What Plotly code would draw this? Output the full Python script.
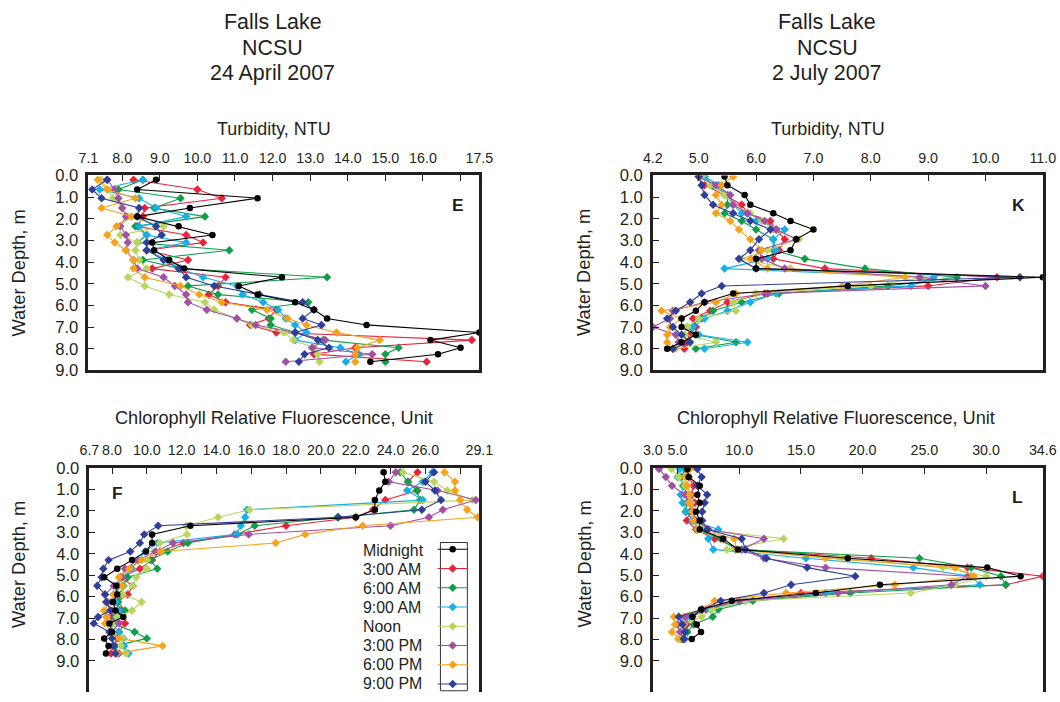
import plotly.graph_objects as go

W, H = 1060, 702

series_names = ["Midnight", "3:00 AM", "6:00 AM", "9:00 AM", "Noon", "3:00 PM", "6:00 PM", "9:00 PM"]
series_colors = ["#000000", "#e8243c", "#0f9f4a", "#19aee8", "#b8d65e", "#a34fa6", "#f6a21b", "#2f3f98"]
series_symbols = ["circle"] + ["diamond"] * 7

# ---------------- Panel E : Turbidity, 24 April 2007 ----------------
depth_E = [0.2, 0.65, 1.05, 1.5, 1.9, 2.35, 2.75, 3.1, 3.45, 3.9, 4.3, 4.7, 5.1, 5.5, 5.85, 6.2, 6.6, 6.9, 7.25, 7.6, 7.95, 8.25, 8.6]
E_midnight = [8.9, 8.4, 11.6, 9.8, 8.4, 9.5, 10.4, 8.8, 8.85, 9.25, 9.65, 12.25, 11.1, 11.6, 12.6, 13.1, 13.45, 14.5, 17.5, 16.2, 17.0, 16.4, 14.6]
E_3am = [8.3, 10.0, 10.65, 8.6, 8.55, 8.4, 9.7, 10.15, 8.65, 9.75, 8.8, 10.75, 10.55, 10.3, 10.75, 12.1, 11.9, 11.4, 12.1, 17.3, 14.2, 13.1, 16.1]
E_6am = [8.55, 7.9, 9.55, 8.85, 10.2, 8.35, 8.65, 8.4, 10.85, 8.55, 9.55, 13.45, 9.75, 10.55, 12.95, 11.45, 11.95, 11.95, 12.6, 13.35, 15.35, 15.0, 15.0]
E_9am = [8.55, 7.4, 8.45, 8.9, 9.7, 8.45, 8.65, 9.7, 8.65, 9.2, 9.55, 10.15, 11.05, 11.2, 11.75, 12.15, 12.35, 12.6, 12.9, 12.6, 13.8, 14.3, 13.95]
E_noon = [7.45, 7.6, 7.75, 8.0, 8.15, 9.1, 7.95, 8.4, 8.35, 8.45, 8.65, 8.15, 8.6, 9.25, 10.2, 10.45, 11.05, 11.45, 12.3, 12.55, 13.1, 13.2, 13.25]
E_3pm = [7.6, 7.8, 7.9, 8.0, 8.1, 7.95, 8.1, 8.15, 8.1, 8.3, 8.4, 9.1, 9.4, 9.7, 9.75, 10.25, 11.05, 11.55, 12.6, 13.4, 13.05, 14.65, 12.35]
E_6pm = [7.35, 7.6, 8.35, 7.45, 8.25, 7.85, 7.6, 7.8, 8.1, 8.3, 8.3, 8.6, 9.55, 10.05, 10.65, 11.85, 12.4, 12.9, 13.7, 14.85, 14.25, 14.2, 14.2]
E_9pm = [7.6, 7.2, 7.45, 8.45, 8.4, 8.9, 9.05, 8.65, 8.65, 9.1, 9.5, 9.7, 10.45, 11.65, 12.8, 13.1, 12.8, 13.3, 12.6, 13.2, 13.5, 12.85, 12.7]
E_ticks = [7.1, 8.0, 9.0, 10.0, 11.0, 12.0, 13.0, 14.0, 15.0, 16.0, 17.0, 17.5]
E_ticktext = ["7.1", "8.0", "9.0", "10.0", "11.0", "12.0", "13.0", "14.0", "15.0", "16.0", "", "17.5"]

# ---------------- Panel K : Turbidity, 2 July 2007 ----------------
depth_K = [0.05, 0.45, 0.9, 1.35, 1.75, 2.1, 2.5, 2.95, 3.45, 3.85, 4.3, 4.7, 5.1, 5.45, 5.85, 6.25, 6.6, 7.0, 7.35, 7.7, 8.0]
K_midnight = [5.45, 5.5, 5.8, 5.9, 6.3, 6.6, 7.0, 6.7, 6.6, 6.0, 6.0, 11.0, 7.6, 5.6, 5.1, 4.95, 4.7, 4.7, 4.95, 4.7, 4.45]
K_3am = [5.0, 5.1, 5.45, 5.75, 5.85, 6.25, 6.35, 6.5, 6.4, 6.3, 7.2, 10.2, 9.0, 6.15, 5.5, 5.2, 4.9, 4.95, 4.85, 4.8, 4.75]
K_6am = [5.1, 5.25, 5.5, 5.5, 5.45, 5.75, 6.0, 6.3, 6.3, 6.85, 7.9, 9.5, 8.3, 6.4, 5.75, 5.25, 5.05, 4.8, 4.95, 5.65, 4.95]
K_9am = [5.1, 5.35, 5.5, 5.6, 5.75, 6.0, 6.5, 6.3, 6.35, 6.2, 5.45, 9.1, 8.7, 6.35, 5.9, 5.5, 5.1, 4.9, 5.0, 5.85, 5.1]
K_noon = [5.05, 5.2, 5.45, 5.6, 5.9, 6.1, 6.3, 6.75, 6.2, 5.75, 6.6, 8.9, 8.0, 6.0, 5.6, 5.65, 5.0, 4.8, 4.75, 5.3, 4.6]
K_3pm = [5.0, 5.3, 5.55, 5.6, 5.85, 6.15, 6.35, 6.7, 6.05, 6.1, 6.5, 8.85, 10.0, 6.2, 5.1, 4.55, 4.5, 4.2, 4.6, 4.65, 4.55]
K_6pm = [5.6, 5.4, 5.3, 5.4, 5.3, 5.55, 5.7, 5.9, 6.1, 5.9, 6.2, 8.6, 7.5, 5.65, 5.3, 4.35, 4.7, 4.5, 4.45, 4.45, 4.55]
K_9pm = [5.0, 5.05, 5.1, 5.25, 5.6, 5.9, 6.25, 6.05, 5.9, 5.7, 6.0, 10.6, 5.4, 5.05, 4.85, 4.6, 4.45, 4.55, 4.7, 4.85, 4.55]
K_ticks = [4.2, 5.0, 6.0, 7.0, 8.0, 9.0, 10.0, 11.0]
K_ticktext = ["4.2", "5.0", "6.0", "7.0", "8.0", "9.0", "10.0", "11.0"]

# ---------------- Panel F : Chlorophyll, 24 April 2007 ----------------
depth_F = [0.2, 0.65, 1.05, 1.5, 1.95, 2.3, 2.7, 3.1, 3.5, 3.9, 4.3, 4.7, 5.1, 5.5, 5.9, 6.25, 6.65, 6.95, 7.25, 7.65, 7.95, 8.3, 8.65]
F_midnight = [23.6, 23.7, 23.35, 23.1, 23.1, 22.0, 12.5, 10.3, 10.3, 9.95, 9.15, 8.3, 7.55, 8.25, 8.3, 8.05, 8.2, 8.65, 7.85, 8.0, 7.55, 7.8, 7.65]
F_3am = [25.55, 25.0, 25.55, 23.7, 23.0, 22.0, 18.0, 15.05, 12.1, 10.75, 10.3, 9.6, 8.5, 9.2, 8.9, 8.3, 8.5, 8.0, 8.75, 8.4, 8.35, 8.05, 7.95]
F_6am = [24.55, 25.0, 25.5, 25.7, 25.35, 20.95, 16.2, 15.2, 12.35, 11.2, 10.2, 10.6, 8.9, 8.65, 8.5, 8.35, 8.75, 8.2, 8.0, 9.3, 10.0, 8.2, 8.3]
F_9am = [26.4, 25.85, 24.95, 25.85, 15.75, 15.65, 15.4, 15.15, 10.6, 9.9, 9.5, 9.15, 8.6, 8.35, 8.1, 8.2, 8.4, 8.25, 8.0, 8.4, 8.65, 8.7, 8.95]
F_noon = [24.7, 26.5, 27.25, 28.7, 15.9, 14.1, 12.25, 12.3, 10.75, 10.4, 10.0, 10.0, 9.4, 9.2, 8.6, 9.7, 9.15, 8.3, 8.1, 8.0, 8.6, 8.5, 8.8]
F_3pm = [24.3, 23.9, 26.7, 28.9, 27.0, 26.2, 24.0, 15.85, 11.5, 10.5, 9.5, 8.75, 8.6, 8.1, 7.6, 7.65, 8.0, 7.7, 8.4, 8.0, 8.3, 8.1, 8.4]
F_6pm = [27.1, 27.7, 27.7, 28.0, 28.4, 29.0, 22.4, 19.1, 17.4, 10.8, 9.7, 9.0, 8.4, 8.6, 8.1, 7.9, 7.55, 7.7, 7.6, 7.9, 8.4, 10.9, 8.3]
F_9pm = [26.5, 26.0, 26.55, 26.9, 25.8, 21.0, 10.65, 9.85, 9.6, 9.05, 7.8, 7.5, 7.4, 7.15, 7.6, 7.7, 7.9, 7.2, 6.95, 7.85, 8.0, 8.1, 8.2]
F_ticks = [6.7, 8.0, 10.0, 12.0, 14.0, 16.0, 18.0, 20.0, 22.0, 24.0, 26.0, 28.0, 29.1]
F_ticktext = ["6.7", "8.0", "10.0", "12.0", "14.0", "16.0", "18.0", "20.0", "22.0", "24.0", "26.0", "", "29.1"]

# ---------------- Panel L : Chlorophyll, 2 July 2007 ----------------
depth_L = [0.05, 0.42, 0.83, 1.25, 1.62, 2.04, 2.45, 2.87, 3.3, 3.8, 4.21, 4.65, 5.05, 5.45, 5.83, 6.2, 6.6, 6.94, 7.3, 7.65, 7.98]
L_midnight = [5.8, 5.9, 6.8, 6.6, 6.8, 6.5, 6.8, 6.8, 8.7, 9.9, 18.8, 30.1, 32.8, 21.4, 16.2, 9.4, 6.9, 6.2, 6.55, 6.9, 6.15]
L_3am = [5.7, 5.9, 6.3, 6.1, 6.4, 6.0, 5.75, 6.5, 8.0, 10.2, 20.7, 28.5, 34.6, 31.6, 15.0, 9.95, 7.3, 6.2, 5.75, 5.6, 5.45]
L_6am = [5.6, 5.3, 5.45, 5.8, 5.75, 5.65, 6.3, 6.6, 8.5, 9.7, 24.6, 28.8, 31.2, 31.6, 19.0, 11.1, 8.3, 7.85, 6.3, 5.8, 5.35]
L_9am = [5.2, 5.0, 5.6, 5.25, 5.4, 5.7, 6.2, 8.3, 7.5, 7.9, 15.4, 24.1, 28.8, 29.5, 17.0, 10.5, 7.7, 5.8, 5.5, 5.3, 5.6]
L_noon = [4.5, 5.1, 5.6, 5.9, 6.1, 6.3, 6.4, 7.0, 13.6, 9.0, 18.2, 26.5, 30.0, 27.5, 23.9, 10.5, 7.8, 6.95, 5.5, 5.4, 5.0]
L_3pm = [3.5, 4.05, 4.55, 5.6, 5.9, 6.3, 6.5, 7.5, 12.0, 10.2, 12.0, 17.0, 28.5, 27.2, 18.0, 10.0, 7.0, 5.6, 5.0, 5.2, 5.5]
L_6pm = [6.0, 5.6, 5.8, 6.0, 5.9, 6.2, 6.3, 6.6, 9.6, 9.8, 17.0, 27.5, 29.0, 22.6, 13.8, 8.0, 6.95, 4.7, 4.8, 4.55, 5.2]
L_9pm = [6.6, 6.95, 6.6, 7.4, 7.2, 7.0, 7.0, 7.4, 10.2, 10.5, 12.2, 15.5, 19.4, 14.2, 12.0, 8.5, 7.0, 5.1, 5.4, 5.6, 5.5]
L_ticks = [3.0, 5.0, 10.0, 15.0, 20.0, 25.0, 30.0, 34.6]
L_ticktext = ["3.0", "5.0", "10.0", "15.0", "20.0", "25.0", "30.0", "34.6"]

depth_ticks = [0, 1, 2, 3, 4, 5, 6, 7, 8, 9]
depth_ticktext = ["0.0", "1.0", "2.0", "3.0", "4.0", "5.0", "6.0", "7.0", "8.0", "9.0"]

title_lines_left = ["Falls Lake", "NCSU", "24 April 2007"]
title_lines_right = ["Falls Lake", "NCSU", "2 July 2007"]
turb_title = "Turbidity, NTU"
chl_title = "Chlorophyll Relative Fluorescence, Unit"
depth_title = "Water Depth, m"

FONT = "Liberation Sans, Arial, Helvetica, sans-serif"
INK = "#231f20"

# mapping from target-picture pixels to page pixels (the capture shows the page slightly scaled)
SX, OX, SY, OY = 0.98, 9.4, 0.978, 6.7


def page_x(px):
    return (px - OX) / SX


def page_y(py):
    return (py - OY) / SY


def xp(px):
    return page_x(px) / W


def yp(py):
    return 1 - page_y(py) / H


def fs(size):
    return size / SX


# bottom panels: depth 0 at y=468, 9 m at y=662 (picture px); box runs off the page bottom
bot_scale = (page_y(662) - page_y(468)) / 9.0
bot_max = (H - page_y(468)) / bot_scale

panels = [
    dict(key="", depth=depth_E, vals=[E_midnight, E_3am, E_6am, E_9am, E_noon, E_3pm, E_6pm, E_9pm],
         xr=[7.1, 17.5], yr=[9, 0], ticks=E_ticks, ticktext=E_ticktext,
         dom_x=[xp(88), xp(480)], dom_y=[yp(370), yp(174)], closed=True),
    dict(key="2", depth=depth_K, vals=[K_midnight, K_3am, K_6am, K_9am, K_noon, K_3pm, K_6pm, K_9pm],
         xr=[4.2, 11.0], yr=[9, 0], ticks=K_ticks, ticktext=K_ticktext,
         dom_x=[xp(654), xp(1045)], dom_y=[yp(370), yp(174)], closed=True),
    dict(key="3", depth=depth_F, vals=[F_midnight, F_3am, F_6am, F_9am, F_noon, F_3pm, F_6pm, F_9pm],
         xr=[6.7, 29.1], yr=[bot_max, 0], ticks=F_ticks, ticktext=F_ticktext,
         dom_x=[xp(89), xp(480)], dom_y=[0, yp(468)], closed=False),
    dict(key="4", depth=depth_L, vals=[L_midnight, L_3am, L_6am, L_9am, L_noon, L_3pm, L_6pm, L_9pm],
         xr=[3.0, 34.6], yr=[bot_max, 0], ticks=L_ticks, ticktext=L_ticktext,
         dom_x=[xp(654), xp(1045)], dom_y=[0, yp(468)], closed=False),
]

fig = go.Figure()
layout = dict(width=W, height=H, autosize=False, margin=dict(l=0, r=0, t=0, b=0),
              paper_bgcolor="white", plot_bgcolor="white", font=dict(family=FONT, color=INK))

draw_order = [1, 2, 3, 4, 5, 6, 7, 0]
for p in panels:
    k = p["key"]
    for i in draw_order:
        fig.add_trace(go.Scatter(
            x=p["vals"][i], y=p["depth"], mode="lines+markers", name=series_names[i],
            line=dict(color=series_colors[i], width=1.1),
            marker=dict(color=series_colors[i], symbol=series_symbols[i], size=6.5),
            xaxis="x" + k, yaxis="y" + k, showlegend=False))
    layout["xaxis" + k] = dict(
        domain=p["dom_x"], range=p["xr"], side="top", anchor="y" + k,
        tickmode="array", tickvals=p["ticks"], ticktext=p["ticktext"],
        ticks="inside", ticklen=6, tickwidth=1.2, tickcolor=INK,
        showline=True, linecolor=INK, linewidth=2.5, mirror=p["closed"],
        showgrid=False, zeroline=False, ticklabelstandoff=4,
        tickfont=dict(family=FONT, size=fs(14), color=INK))
    layout["yaxis" + k] = dict(
        domain=p["dom_y"], range=p["yr"], anchor="x" + k,
        tickmode="array", tickvals=depth_ticks, ticktext=depth_ticktext,
        ticks="inside", ticklen=6, tickwidth=1.2, tickcolor=INK,
        showline=True, linecolor=INK, linewidth=2.5, mirror=True,
        showgrid=False, zeroline=False, ticklabelstandoff=4,
        tickfont=dict(family=FONT, size=fs(16.3), color=INK))

# legend entries (symbols only; labels drawn as text to their left)
for i in range(8):
    fig.add_trace(go.Scatter(
        x=[None], y=[None], mode="lines+markers", name="",
        line=dict(color=series_colors[i], width=1.1),
        marker=dict(color=series_colors[i], symbol=series_symbols[i], size=6.5),
        xaxis="x3", yaxis="y3", showlegend=True))

layout["showlegend"] = True
layout["legend"] = dict(x=(page_x(454.5) - 21.7) / W, y=1 - (page_y(550.7) - 16.0) / H,
                        xanchor="left", yanchor="top",
                        bgcolor="rgba(0,0,0,0)", borderwidth=0, itemwidth=30,
                        font=dict(size=12.5), tracegroupgap=0)

ann = []


def text(s, px, py, size, xanchor="center", yanchor="middle", angle=0, bold=False):
    ann.append(dict(text=("<b>%s</b>" % s) if bold else s, x=xp(px), y=yp(py), xref="paper", yref="paper",
                    xanchor=xanchor, yanchor=yanchor, showarrow=False, textangle=angle,
                    font=dict(family=FONT, size=fs(size), color=INK)))


for j, (a, b) in enumerate(zip(title_lines_left, title_lines_right)):
    text(a, 273, 20 + j * 25.5, 21)
    text(b, 829, 20 + j * 25.5, 21)
text(turb_title, 274, 127, 17.6)
text(turb_title, 830, 127, 17.6)
text(chl_title, 274, 418, 17.8)
text(chl_title, 838, 418, 17.8)
text(depth_title, 18, 272, 17.9, angle=-90)
text(depth_title, 585, 272, 17.9, angle=-90)
text(depth_title, 18, 565, 17.9, angle=-90)
text(depth_title, 585, 565, 17.9, angle=-90)
text("E", 459, 204, 17, bold=True)
text("K", 1021, 204, 17, bold=True)
text("F", 117, 493, 17, bold=True)
text("L", 1020, 497, 17, bold=True)
for i, nm in enumerate(series_names):
    text(nm, 361, 550.7 + i * 19.2, 15.6, xanchor="left")

layout["annotations"] = ann
layout["shapes"] = [dict(type="rect", xref="paper", yref="paper", x0=xp(441), x1=xp(468), y0=yp(692), y1=yp(543),
                         line=dict(color="#333333", width=1))]

fig.update_layout(**layout)
fig.write_html("out.html", config={"responsive": False, "displayModeBar": False},
               post_script="document.body.style.margin='0';document.body.style.padding='0';"
                           "document.body.style.overflow='hidden';")
